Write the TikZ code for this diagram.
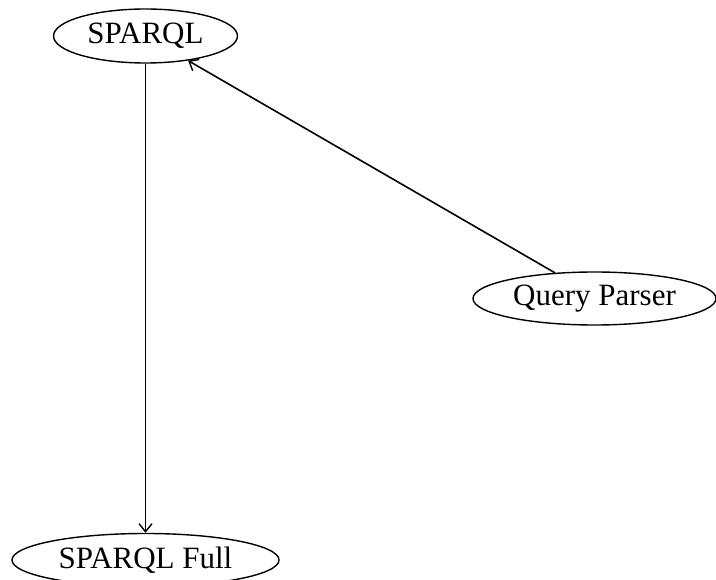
\documentclass[tikz,border=0pt]{standalone}
\usepackage{fontspec}
\setmainfont{Liberation Serif}
\usetikzlibrary{shapes.geometric,arrows.meta}
\begin{document}
\begin{tikzpicture}[x=1pt,y=1pt,
  nd/.style={draw, ellipse, line width=1.4pt, inner sep=0pt, font=\fontsize{31}{36}\selectfont},
  conn/.style={line width=1.6pt, -{Straight Barb[length=8pt,width=13pt,line width=1.4pt]}}]
\useasboundingbox (0,0) rectangle (716,-580);
\node[nd, minimum width=184pt, minimum height=54pt] (sp) at (145.5,-36) {SPARQL};
\node[nd, minimum width=243pt, minimum height=53pt] (qp) at (594.5,-298.5) {Query Parser};
\node[nd, minimum width=267pt, minimum height=53pt] (spf) at (145.5,-560) {SPARQL Full};
\draw[conn] (sp.south) -- (spf.north);
\draw[conn] (qp.147) -- (sp.-30);
\end{tikzpicture}
\end{document}
